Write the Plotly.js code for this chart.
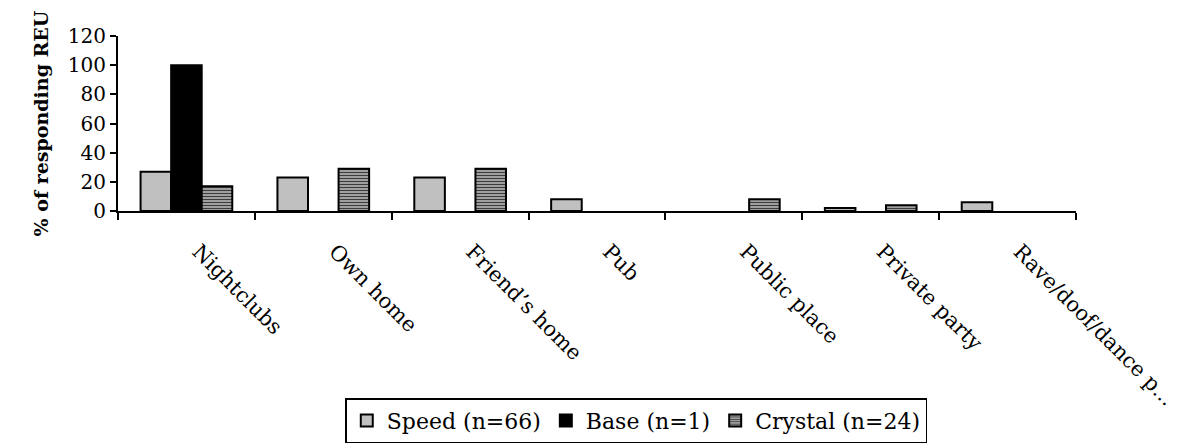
<!DOCTYPE html>
<html>
<head>
<meta charset="utf-8">
<script src="https://cdn.plot.ly/plotly-3.0.1.min.js"></script>
<style>
  html, body { margin: 0; padding: 0; background: #ffffff; }
  #chart { width: 1193px; height: 446px; }
</style>
</head>
<body>
<div id="chart"></div>
<script>
// Venues where drug use took place, % of responding REU per drug type
const venues = ["Nightclubs", "Own home", "Friend’s home", "Pub", "Public place", "Private party", "Rave/doof/dance p..."];
const speedValues   = [27, 23, 23, 8, 0, 2, 6];
const baseValues    = [100, 0, 0, 0, 0, 0, 0];
const crystalValues = [17, 29, 29, 0, 8, 4, 0];
const seriesNames = ["Speed (n=66)", "Base (n=1)", "Crystal (n=24)"];
const yTicks = [0, 20, 40, 60, 80, 100, 120];

const FONT = "DejaVu Serif, Liberation Serif, serif";

// bars with no responses get no outline, so they stay invisible
const outlineFor = vals => ({ color: "#000000", width: vals.map(v => (v > 0 ? 2 : 0)) });

const traces = [
  {
    type: "bar", name: seriesNames[0], x: venues, y: speedValues,
    marker: { color: "#c0c0c0", line: outlineFor(speedValues) }
  },
  {
    type: "bar", name: seriesNames[1], x: venues, y: baseValues,
    marker: { color: "#000000", line: outlineFor(baseValues) }
  },
  {
    type: "bar", name: seriesNames[2], x: venues, y: crystalValues,
    marker: {
      color: "#a8a8a8", line: outlineFor(crystalValues),
      pattern: { shape: "-", fgcolor: "#3c3c3c", bgcolor: "#b4b4b4", size: 3, solidity: 0.45 }
    }
  }
];

const layout = {
  width: 1193, height: 446,
  margin: { l: 118, r: 117, t: 36, b: 235, autoexpand: false },
  paper_bgcolor: "#ffffff", plot_bgcolor: "#ffffff",
  font: { family: FONT, size: 20, color: "#000000" },
  barmode: "group",
  bargap: 0.33,
  bargroupgap: 0,
  showlegend: true,
  legend: {
    orientation: "h",
    x: 0.541, xanchor: "center",
    y: -1.07, yanchor: "top",
    bordercolor: "#000000", borderwidth: 1.5,
    font: { family: FONT, size: 22 },
    itemwidth: 30,
    traceorder: "normal"
  },
  xaxis: {
    type: "category",
    automargin: false,
    showline: true, linecolor: "#000000", linewidth: 2,
    ticks: "outside", tickson: "boundaries", ticklen: 7, tickwidth: 2, tickcolor: "#000000",
    tickangle: 45,
    ticklabelstandoff: 18,
    ticklabelshift: 12,
    tickfont: { family: FONT, size: 21 },
    showgrid: false, zeroline: false
  },
  yaxis: {
    range: [0, 120],
    automargin: false,
    tickvals: yTicks,
    showline: true, linecolor: "#000000", linewidth: 2,
    ticks: "outside", ticklen: 6, tickwidth: 2, tickcolor: "#000000",
    tickfont: { family: FONT, size: 20 },
    showgrid: false, zeroline: false,
    title: { text: "<b>% of responding REU</b>", font: { family: FONT, size: 19 }, standoff: 14 }
  }
};

Plotly.newPlot("chart", traces, layout, { displayModeBar: false, staticPlot: true });
</script>
</body>
</html>
